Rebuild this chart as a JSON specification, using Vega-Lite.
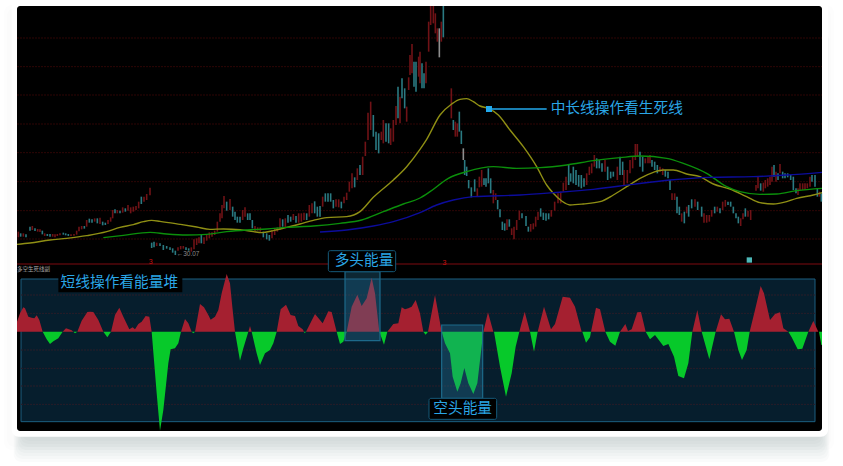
{"$schema":"https://vega.github.io/schema/vega-lite/v6.json","width":843,"height":466,"padding":0,"autosize":{"type":"fit","contains":"padding"},"background":"#ffffff","config":{"view":{"stroke":null},"text":{"font":"Noto Sans CJK SC"}},"resolve":{"scale":{"y":"independent"}},"layer":[
{"encoding":{"x":{"field":"x","type":"quantitative","scale":{"domain":[0,2529],"nice":false,"zero":false},"axis":null},"y":{"field":"y","type":"quantitative","scale":{"domain":[0,1398],"nice":false,"zero":false},"axis":null}},"layer":[
{"data":{"values":[{"x":12,"x2":2502,"y":1383,"y2":48},{"x":21,"x2":2493,"y":1374,"y2":57}]},"mark":{"type":"rect","fill":"#6b7780","opacity":0.015,"cornerRadius":8},"encoding":{"x2":{"field":"x2"},"y2":{"field":"y2"}}},
{"data":{"values":[{"x":66,"x2":2463,"y":1300,"y2":75},{"x":62,"x2":2467,"y":1300,"y2":66},{"x":59,"x2":2470,"y":1300,"y2":57},{"x":55,"x2":2474,"y":1300,"y2":48},{"x":52,"x2":2477,"y":1300,"y2":39},{"x":48,"x2":2481,"y":1300,"y2":30},{"x":44,"x2":2485,"y":1300,"y2":21},{"x":41,"x2":2488,"y":1300,"y2":12}]},"mark":{"type":"rect","fill":"#6b7780","opacity":0.03,"cornerRadius":8},"encoding":{"x2":{"field":"x2"},"y2":{"field":"y2"}}},
{"data":{"values":[{"x":35,"x2":2484,"y":1398,"y2":88}]},"mark":{"type":"rect","fill":"#ffffff","cornerRadius":7},"encoding":{"x2":{"field":"x2"},"y2":{"field":"y2"}}},
{"data":{"values":[{"x":51,"x2":2466,"y":1380,"y2":105}]},"mark":{"type":"rect","fill":"#000000","cornerRadius":3},"encoding":{"x2":{"field":"x2"},"y2":{"field":"y2"}}},
{"data":{"values":[{"x":51,"x2":2466,"y":1284},{"x":51,"x2":2466,"y":1198},{"x":51,"x2":2466,"y":1113},{"x":51,"x2":2466,"y":1026},{"x":51,"x2":2466,"y":940},{"x":51,"x2":2466,"y":853},{"x":51,"x2":2466,"y":766},{"x":51,"x2":2466,"y":681}]},"mark":{"type":"rule","stroke":"#2e0505","strokeWidth":1,"strokeDash":[2,1]},"encoding":{"x2":{"field":"x2"}}},
{"data":{"values":[{"x":51,"x2":2466,"y":606}]},"mark":{"type":"rule","stroke":"#7f0a10","strokeWidth":1},"encoding":{"x2":{"field":"x2"}}},
{"data":{"values":[
{"x":55,"h":703,"l":686,"d":"r"},{"x":62,"h":698,"l":688,"d":"t"},{"x":70,"h":698,"l":688,"d":"r"},{"x":78,"h":695,"l":686,"d":"t"},{"x":90,"h":718,"l":706,"d":"t"},{"x":97,"h":720,"l":708,"d":"r"},{"x":105,"h":713,"l":705,"d":"t"},{"x":113,"h":711,"l":703,"d":"r"},{"x":120,"h":710,"l":702,"d":"r"},{"x":127,"h":706,"l":695,"d":"t"},{"x":134,"h":698,"l":690,"d":"r"},{"x":142,"h":696,"l":690,"d":"t"},{"x":150,"h":696,"l":688,"d":"t"},{"x":158,"h":696,"l":688,"d":"r"},{"x":165,"h":695,"l":686,"d":"r"},{"x":172,"h":696,"l":690,"d":"r"},{"x":180,"h":698,"l":692,"d":"r"},{"x":190,"h":700,"l":694,"d":"t"},{"x":197,"h":698,"l":692,"d":"t"},{"x":205,"h":696,"l":690,"d":"t"},{"x":213,"h":695,"l":690,"d":"r"},{"x":222,"h":696,"l":691,"d":"r"},{"x":230,"h":706,"l":694,"d":"r"},{"x":237,"h":718,"l":704,"d":"r"},{"x":245,"h":720,"l":710,"d":"r"},{"x":253,"h":720,"l":712,"d":"t"},{"x":260,"h":738,"l":718,"d":"r"},{"x":268,"h":742,"l":730,"d":"t"},{"x":276,"h":740,"l":730,"d":"t"},{"x":284,"h":743,"l":733,"d":"r"},{"x":292,"h":743,"l":728,"d":"t"},{"x":300,"h":745,"l":726,"d":"r"},{"x":308,"h":733,"l":722,"d":"t"},{"x":316,"h":730,"l":723,"d":"t"},{"x":324,"h":738,"l":726,"d":"r"},{"x":332,"h":746,"l":733,"d":"r"},{"x":338,"h":768,"l":743,"d":"r"},{"x":345,"h":770,"l":758,"d":"t"},{"x":352,"h":768,"l":758,"d":"r"},{"x":360,"h":766,"l":758,"d":"t"},{"x":368,"h":776,"l":760,"d":"r"},{"x":376,"h":773,"l":763,"d":"t"},{"x":384,"h":783,"l":766,"d":"r"},{"x":392,"h":776,"l":758,"d":"r"},{"x":400,"h":778,"l":763,"d":"r"},{"x":408,"h":780,"l":768,"d":"r"},{"x":416,"h":793,"l":773,"d":"r"},{"x":424,"h":808,"l":786,"d":"t"},{"x":432,"h":808,"l":793,"d":"r"},{"x":440,"h":816,"l":798,"d":"r"},{"x":450,"h":835,"l":812,"d":"r"},
{"x":455,"h":670,"l":654,"d":"t"},{"x":462,"h":673,"l":656,"d":"t"},{"x":470,"h":670,"l":660,"d":"r"},{"x":480,"h":668,"l":660,"d":"t"},{"x":490,"h":663,"l":648,"d":"t"},{"x":500,"h":660,"l":652,"d":"t"},{"x":510,"h":656,"l":648,"d":"t"},{"x":518,"h":653,"l":640,"d":"t"},{"x":526,"h":646,"l":633,"d":"t"},{"x":534,"h":656,"l":646,"d":"r"},{"x":542,"h":660,"l":650,"d":"r"},{"x":550,"h":660,"l":652,"d":"r"},{"x":558,"h":656,"l":648,"d":"t"},{"x":566,"h":653,"l":646,"d":"t"},{"x":574,"h":656,"l":643,"d":"r"},{"x":582,"h":680,"l":650,"d":"r"},{"x":590,"h":683,"l":663,"d":"r"},{"x":597,"h":686,"l":668,"d":"r"},{"x":604,"h":693,"l":668,"d":"t"},{"x":612,"h":686,"l":666,"d":"r"},{"x":620,"h":693,"l":676,"d":"r"},{"x":628,"h":701,"l":683,"d":"r"},{"x":636,"h":701,"l":688,"d":"r"},{"x":644,"h":706,"l":693,"d":"r"},{"x":652,"h":733,"l":703,"d":"r"},{"x":660,"h":758,"l":733,"d":"r"},{"x":666,"h":783,"l":743,"d":"r"},{"x":672,"h":810,"l":773,"d":"r"},{"x":680,"h":793,"l":766,"d":"t"},{"x":690,"h":801,"l":768,"d":"r"},{"x":698,"h":778,"l":748,"d":"t"},{"x":705,"h":763,"l":738,"d":"t"},{"x":712,"h":748,"l":730,"d":"t"},{"x":720,"h":748,"l":730,"d":"t"},{"x":728,"h":768,"l":738,"d":"r"},{"x":735,"h":776,"l":748,"d":"r"},{"x":743,"h":758,"l":738,"d":"t"},{"x":750,"h":758,"l":738,"d":"t"},{"x":757,"h":738,"l":713,"d":"t"},{"x":765,"h":720,"l":703,"d":"r"},{"x":773,"h":716,"l":706,"d":"r"},{"x":781,"h":716,"l":703,"d":"r"},{"x":790,"h":703,"l":686,"d":"t"},{"x":800,"h":698,"l":680,"d":"t"},{"x":808,"h":693,"l":676,"d":"t"},{"x":816,"h":708,"l":683,"d":"r"},{"x":824,"h":713,"l":693,"d":"r"},{"x":832,"h":716,"l":703,"d":"r"},{"x":840,"h":743,"l":708,"d":"r"},{"x":848,"h":740,"l":718,"d":"t"},{"x":856,"h":743,"l":716,"d":"r"},{"x":864,"h":753,"l":730,"d":"t"},{"x":872,"h":748,"l":733,"d":"t"},{"x":880,"h":756,"l":738,"d":"r"},{"x":888,"h":750,"l":730,"d":"t"},{"x":896,"h":758,"l":730,"d":"r"},{"x":904,"h":758,"l":733,"d":"r"},{"x":912,"h":760,"l":738,"d":"r"},{"x":920,"h":758,"l":738,"d":"t"},{"x":928,"h":783,"l":748,"d":"r"},{"x":936,"h":788,"l":758,"d":"r"},{"x":944,"h":794,"l":758,"d":"t"},{"x":952,"h":778,"l":748,"d":"t"},{"x":960,"h":780,"l":748,"d":"t"},{"x":968,"h":808,"l":778,"d":"r"},{"x":976,"h":818,"l":793,"d":"t"},{"x":984,"h":818,"l":793,"d":"t"},{"x":992,"h":818,"l":793,"d":"t"},{"x":1000,"h":798,"l":773,"d":"t"},{"x":1008,"h":800,"l":778,"d":"r"},{"x":1016,"h":800,"l":776,"d":"r"},{"x":1024,"h":793,"l":773,"d":"t"},{"x":1032,"h":808,"l":788,"d":"r"},{"x":1040,"h":820,"l":798,"d":"r"},{"x":1048,"h":853,"l":823,"d":"r"},{"x":1056,"h":878,"l":833,"d":"r"},{"x":1064,"h":866,"l":836,"d":"t"},{"x":1072,"h":893,"l":858,"d":"r"},{"x":1080,"h":903,"l":873,"d":"t"},{"x":1088,"h":928,"l":873,"d":"r"},{"x":1096,"h":973,"l":930,"d":"r"},{"x":1104,"h":1060,"l":978,"d":"r"},{"x":1112,"h":1093,"l":1008,"d":"r"},{"x":1120,"h":1053,"l":988,"d":"t"},{"x":1128,"h":1003,"l":948,"d":"t"},{"x":1136,"h":998,"l":938,"d":"t"},{"x":1144,"h":1003,"l":978,"d":"r"},{"x":1150,"h":1038,"l":968,"d":"r"},{"x":1158,"h":1028,"l":973,"d":"t"},{"x":1166,"h":1028,"l":968,"d":"t"},{"x":1172,"h":1013,"l":963,"d":"r"},{"x":1180,"h":1038,"l":973,"d":"r"},{"x":1188,"h":1080,"l":1023,"d":"r"},{"x":1194,"h":1138,"l":1043,"d":"t"},{"x":1200,"h":1108,"l":1028,"d":"r"},{"x":1206,"h":1163,"l":1103,"d":"t"},{"x":1214,"h":1133,"l":1073,"d":"t"},{"x":1220,"h":1078,"l":1033,"d":"r"},{"x":1226,"h":1166,"l":1128,"d":"r"},{"x":1230,"h":1233,"l":1173,"d":"r"},{"x":1236,"h":1266,"l":1178,"d":"r"},{"x":1242,"h":1213,"l":1138,"d":"t"},{"x":1248,"h":1213,"l":1123,"d":"t"},{"x":1256,"h":1228,"l":1168,"d":"r"},
{"x":1260,"h":1243,"l":1148,"d":"r"},{"x":1266,"h":1208,"l":1133,"d":"t"},{"x":1272,"h":1178,"l":1133,"d":"t"},{"x":1278,"h":1213,"l":1148,"d":"r"},{"x":1286,"h":1333,"l":1243,"d":"r"},{"x":1292,"h":1380,"l":1323,"d":"r"},{"x":1300,"h":1380,"l":1328,"d":"r"},{"x":1306,"h":1358,"l":1298,"d":"r"},{"x":1312,"h":1313,"l":1273,"d":"r"},{"x":1318,"h":1313,"l":1226,"d":"g"},{"x":1324,"h":1333,"l":1273,"d":"r"},{"x":1330,"h":1380,"l":1286,"d":"t"},{"x":1354,"h":1133,"l":1043,"d":"r"},{"x":1360,"h":1038,"l":1008,"d":"t"},{"x":1366,"h":1033,"l":988,"d":"r"},{"x":1372,"h":1028,"l":988,"d":"r"},{"x":1378,"h":1063,"l":1003,"d":"t"},{"x":1384,"h":1006,"l":966,"d":"t"},{"x":1390,"h":953,"l":918,"d":"g"},{"x":1394,"h":918,"l":873,"d":"t"},{"x":1400,"h":898,"l":870,"d":"t"},{"x":1406,"h":858,"l":833,"d":"t"},{"x":1414,"h":836,"l":806,"d":"t"},{"x":1424,"h":860,"l":823,"d":"t"},{"x":1432,"h":833,"l":808,"d":"r"},{"x":1438,"h":868,"l":836,"d":"r"},{"x":1445,"h":888,"l":838,"d":"r"},{"x":1452,"h":863,"l":843,"d":"t"},{"x":1458,"h":863,"l":838,"d":"t"},{"x":1465,"h":893,"l":848,"d":"t"},{"x":1472,"h":863,"l":818,"d":"t"},{"x":1480,"h":828,"l":788,"d":"r"},{"x":1487,"h":818,"l":798,"d":"r"},{"x":1493,"h":798,"l":770,"d":"t"},{"x":1500,"h":770,"l":746,"d":"t"},{"x":1507,"h":733,"l":708,"d":"t"},{"x":1514,"h":728,"l":706,"d":"t"},{"x":1521,"h":740,"l":708,"d":"r"},{"x":1528,"h":740,"l":718,"d":"t"},{"x":1535,"h":713,"l":693,"d":"r"},{"x":1542,"h":718,"l":680,"d":"r"},{"x":1550,"h":738,"l":708,"d":"r"},{"x":1558,"h":766,"l":738,"d":"r"},{"x":1566,"h":758,"l":743,"d":"t"},{"x":1578,"h":750,"l":720,"d":"t"},{"x":1585,"h":718,"l":703,"d":"t"},{"x":1592,"h":726,"l":703,"d":"r"},{"x":1600,"h":728,"l":710,"d":"r"},{"x":1607,"h":748,"l":718,"d":"r"},{"x":1614,"h":763,"l":738,"d":"r"},{"x":1622,"h":773,"l":748,"d":"t"},{"x":1630,"h":760,"l":738,"d":"t"},{"x":1638,"h":758,"l":736,"d":"t"},{"x":1646,"h":758,"l":740,"d":"t"},{"x":1654,"h":768,"l":748,"d":"r"},{"x":1664,"h":793,"l":766,"d":"r"},{"x":1674,"h":818,"l":788,"d":"r"},{"x":1682,"h":823,"l":788,"d":"r"},{"x":1690,"h":850,"l":823,"d":"r"},{"x":1698,"h":868,"l":828,"d":"r"},{"x":1706,"h":903,"l":843,"d":"t"},{"x":1712,"h":878,"l":853,"d":"t"},{"x":1720,"h":898,"l":848,"d":"t"},{"x":1728,"h":888,"l":843,"d":"t"},{"x":1736,"h":873,"l":838,"d":"t"},{"x":1744,"h":873,"l":833,"d":"t"},{"x":1752,"h":863,"l":838,"d":"t"},{"x":1760,"h":878,"l":843,"d":"r"},{"x":1768,"h":898,"l":873,"d":"r"},{"x":1775,"h":908,"l":878,"d":"r"},{"x":1783,"h":933,"l":898,"d":"r"},{"x":1790,"h":923,"l":893,"d":"t"},{"x":1798,"h":918,"l":893,"d":"t"},{"x":1806,"h":908,"l":883,"d":"t"},{"x":1815,"h":918,"l":883,"d":"r"},{"x":1823,"h":898,"l":858,"d":"t"},{"x":1832,"h":883,"l":863,"d":"t"},{"x":1840,"h":883,"l":868,"d":"t"},{"x":1852,"h":898,"l":858,"d":"r"},{"x":1860,"h":928,"l":873,"d":"t"},{"x":1868,"h":913,"l":873,"d":"t"},{"x":1872,"h":888,"l":843,"d":"r"},{"x":1882,"h":888,"l":848,"d":"r"},{"x":1890,"h":918,"l":878,"d":"r"},{"x":1898,"h":928,"l":893,"d":"r"},{"x":1906,"h":966,"l":918,"d":"r"},{"x":1912,"h":966,"l":928,"d":"r"},{"x":1920,"h":943,"l":898,"d":"t"},{"x":1928,"h":928,"l":883,"d":"t"},{"x":1936,"h":923,"l":908,"d":"r"},{"x":1944,"h":928,"l":908,"d":"r"},{"x":1950,"h":933,"l":908,"d":"r"},{"x":1956,"h":918,"l":898,"d":"t"},{"x":1964,"h":913,"l":888,"d":"t"},{"x":1972,"h":903,"l":878,"d":"t"},{"x":1980,"h":898,"l":883,"d":"r"},{"x":1988,"h":893,"l":873,"d":"r"},{"x":1996,"h":888,"l":868,"d":"t"},{"x":2004,"h":883,"l":863,"d":"t"},{"x":2010,"h":858,"l":828,"d":"t"},{"x":2016,"h":818,"l":798,"d":"r"},{"x":2024,"h":818,"l":798,"d":"r"},{"x":2031,"h":808,"l":758,"d":"t"},{"x":2038,"h":778,"l":753,"d":"t"},{"x":2045,"h":758,"l":733,"d":"r"},{"x":2053,"h":763,"l":728,"d":"t"},{"x":2060,"h":778,"l":758,"d":"r"},{"x":2066,"h":783,"l":748,"d":"t"},{"x":2075,"h":800,"l":773,"d":"t"},{"x":2085,"h":800,"l":778,"d":"r"},{"x":2093,"h":793,"l":768,"d":"t"},{"x":2105,"h":778,"l":748,"d":"t"},{"x":2112,"h":758,"l":730,"d":"r"},{"x":2120,"h":753,"l":730,"d":"r"},{"x":2128,"h":753,"l":733,"d":"r"},{"x":2135,"h":768,"l":748,"d":"r"},{"x":2144,"h":778,"l":758,"d":"t"},{"x":2152,"h":778,"l":763,"d":"r"},{"x":2160,"h":773,"l":758,"d":"t"},{"x":2168,"h":793,"l":768,"d":"r"},{"x":2176,"h":798,"l":778,"d":"r"},{"x":2184,"h":793,"l":783,"d":"t"},{"x":2192,"h":793,"l":778,"d":"t"},{"x":2200,"h":778,"l":758,"d":"t"},{"x":2208,"h":758,"l":743,"d":"t"},{"x":2215,"h":748,"l":728,"d":"t"},{"x":2222,"h":743,"l":720,"d":"r"},{"x":2229,"h":758,"l":740,"d":"r"},{"x":2236,"h":773,"l":748,"d":"t"},{"x":2244,"h":766,"l":748,"d":"r"},{"x":2252,"h":768,"l":738,"d":"r"},{"x":2268,"h":843,"l":826,"d":"r"},{"x":2274,"h":870,"l":833,"d":"r"},{"x":2282,"h":848,"l":826,"d":"t"},{"x":2290,"h":850,"l":823,"d":"r"},{"x":2296,"h":858,"l":833,"d":"r"},{"x":2303,"h":863,"l":838,"d":"r"},{"x":2310,"h":868,"l":843,"d":"r"},{"x":2316,"h":898,"l":853,"d":"r"},{"x":2322,"h":903,"l":868,"d":"t"},{"x":2328,"h":883,"l":853,"d":"r"},{"x":2334,"h":878,"l":858,"d":"t"},{"x":2340,"h":906,"l":878,"d":"r"},{"x":2348,"h":883,"l":863,"d":"t"},{"x":2355,"h":878,"l":863,"d":"t"},{"x":2363,"h":878,"l":866,"d":"t"},{"x":2372,"h":873,"l":858,"d":"t"},{"x":2380,"h":868,"l":828,"d":"t"},{"x":2388,"h":833,"l":818,"d":"t"},{"x":2394,"h":833,"l":813,"d":"r"},{"x":2400,"h":848,"l":828,"d":"r"},{"x":2408,"h":848,"l":828,"d":"r"},{"x":2415,"h":848,"l":828,"d":"r"},{"x":2422,"h":848,"l":833,"d":"r"},{"x":2430,"h":868,"l":838,"d":"r"},{"x":2436,"h":873,"l":853,"d":"t"},{"x":2445,"h":873,"l":838,"d":"t"},{"x":2452,"h":833,"l":808,"d":"t"},{"x":2458,"h":823,"l":808,"d":"r"},{"x":2464,"h":818,"l":793,"d":"t"}
]},"mark":{"type":"rule","strokeWidth":1.6},"encoding":{"y":{"field":"h","type":"quantitative"},"y2":{"field":"l"},"color":{"field":"d","type":"nominal","legend":null,"scale":{"domain":["r","t","g"],"range":["#701216","#2a7a82","#8e8e8e"]}}}},
{"data":{"values":[{"x":51,"y":665},{"x":90,"y":669},{"x":150,"y":678},{"x":200,"y":683},{"x":260,"y":691},{"x":320,"y":703},{"x":360,"y":716},{"x":400,"y":724},{"x":430,"y":733},{"x":455,"y":737},{"x":480,"y":734},{"x":540,"y":725},{"x":590,"y":717},{"x":630,"y":710},{"x":670,"y":711},{"x":720,"y":709},{"x":760,"y":703},{"x":785,"y":700},{"x":820,"y":706},{"x":860,"y":716},{"x":900,"y":726},{"x":940,"y":737},{"x":980,"y":745},{"x":1040,"y":748},{"x":1080,"y":763},{"x":1120,"y":806},{"x":1180,"y":858},{"x":1220,"y":898},{"x":1260,"y":950},{"x":1280,"y":980},{"x":1320,"y":1053},{"x":1355,"y":1086},{"x":1380,"y":1100},{"x":1400,"y":1102},{"x":1420,"y":1093},{"x":1440,"y":1080},{"x":1465,"y":1073},{"x":1495,"y":1053},{"x":1530,"y":1008},{"x":1570,"y":958},{"x":1610,"y":898},{"x":1640,"y":843},{"x":1660,"y":818},{"x":1685,"y":795},{"x":1710,"y":783},{"x":1750,"y":786},{"x":1800,"y":793},{"x":1840,"y":813},{"x":1880,"y":838},{"x":1920,"y":863},{"x":1960,"y":881},{"x":1990,"y":888},{"x":2020,"y":888},{"x":2060,"y":876},{"x":2100,"y":868},{"x":2140,"y":846},{"x":2190,"y":831},{"x":2240,"y":808},{"x":2280,"y":790},{"x":2320,"y":786},{"x":2360,"y":793},{"x":2390,"y":803},{"x":2440,"y":813},{"x":2466,"y":820}]},"mark":{"type":"line","stroke":"#8f8f14","strokeWidth":1.4,"interpolate":"monotone"}},
{"data":{"values":[{"x":310,"y":685},{"x":370,"y":692},{"x":450,"y":701},{"x":500,"y":696},{"x":560,"y":693},{"x":620,"y":695},{"x":680,"y":703},{"x":740,"y":708},{"x":800,"y":711},{"x":860,"y":716},{"x":940,"y":720},{"x":1020,"y":728},{"x":1085,"y":738},{"x":1150,"y":763},{"x":1210,"y":786},{"x":1260,"y":804},{"x":1290,"y":823},{"x":1345,"y":863},{"x":1400,"y":883},{"x":1480,"y":898},{"x":1550,"y":893},{"x":1620,"y":895},{"x":1700,"y":903},{"x":1780,"y":916},{"x":1860,"y":925},{"x":1920,"y":930},{"x":2000,"y":923},{"x":2050,"y":908},{"x":2120,"y":878},{"x":2180,"y":838},{"x":2220,"y":823},{"x":2280,"y":815},{"x":2330,"y":816},{"x":2390,"y":826},{"x":2466,"y":833}]},"mark":{"type":"line","stroke":"#0b8f0b","strokeWidth":1.4,"interpolate":"monotone"}},
{"data":{"values":[{"x":960,"y":702},{"x":1040,"y":708},{"x":1120,"y":720},{"x":1180,"y":733},{"x":1260,"y":760},{"x":1310,"y":783},{"x":1360,"y":798},{"x":1420,"y":808},{"x":1560,"y":813},{"x":1660,"y":820},{"x":1780,"y":830},{"x":1900,"y":845},{"x":2010,"y":858},{"x":2130,"y":866},{"x":2260,"y":868},{"x":2360,"y":873},{"x":2466,"y":881}]},"mark":{"type":"line","stroke":"#0c0c9c","strokeWidth":1.4,"interpolate":"monotone"}},
{"data":{"values":[{"x":63,"x2":2445,"y":561,"y2":133}]},"mark":{"type":"rect","fill":"#061e2d","stroke":"#1c5f80","strokeWidth":1},"encoding":{"x2":{"field":"x2"},"y2":{"field":"y2"}}},
{"data":{"values":[{"x":63,"x2":2445,"y":513},{"x":63,"x2":2445,"y":458},{"x":63,"x2":2445,"y":348},{"x":63,"x2":2445,"y":293},{"x":63,"x2":2445,"y":240},{"x":63,"x2":2445,"y":185}]},"mark":{"type":"rule","stroke":"#2a1c28","strokeWidth":1,"strokeDash":[2,1]},"encoding":{"x2":{"field":"x2"}}}
]},
{"encoding":{"x":{"field":"x","type":"quantitative","scale":{"domain":[0,2529],"nice":false,"zero":false},"axis":null},"y":{"field":"e","type":"quantitative","stack":null,"scale":{"domain":[-403,995],"nice":false,"zero":false},"axis":null}},"layer":[
{"data":{"values":[{"x":51,"e":0},{"x":51,"e":30},{"x":60,"e":55},{"x":70,"e":73},{"x":75,"e":70},{"x":85,"e":45},{"x":95,"e":42},{"x":103,"e":40},{"x":110,"e":49},{"x":118,"e":35},{"x":128,"e":0},{"x":188,"e":0},{"x":198,"e":10},{"x":215,"e":4},{"x":220,"e":0},{"x":232,"e":0},{"x":245,"e":33},{"x":262,"e":59},{"x":270,"e":60},{"x":280,"e":59},{"x":295,"e":35},{"x":310,"e":0},{"x":333,"e":0},{"x":345,"e":50},{"x":358,"e":72},{"x":370,"e":45},{"x":388,"e":7},{"x":398,"e":13},{"x":405,"e":7},{"x":415,"e":23},{"x":425,"e":30},{"x":437,"e":47},{"x":448,"e":45},{"x":455,"e":0},{"x":543,"e":0},{"x":555,"e":38},{"x":565,"e":25},{"x":575,"e":0},{"x":585,"e":0},{"x":600,"e":83},{"x":612,"e":73},{"x":625,"e":50},{"x":632,"e":36},{"x":645,"e":45},{"x":655,"e":65},{"x":665,"e":115},{"x":680,"e":173},{"x":690,"e":145},{"x":697,"e":75},{"x":705,"e":0},{"x":745,"e":0},{"x":750,"e":17},{"x":755,"e":0},{"x":830,"e":0},{"x":842,"e":67},{"x":858,"e":81},{"x":872,"e":50},{"x":885,"e":47},{"x":895,"e":17},{"x":908,"e":7},{"x":912,"e":0},{"x":918,"e":0},{"x":945,"e":53},{"x":968,"e":25},{"x":985,"e":61},{"x":995,"e":59},{"x":1010,"e":0},{"x":1040,"e":0},{"x":1055,"e":75},{"x":1072,"e":111},{"x":1085,"e":77},{"x":1100,"e":100},{"x":1115,"e":162},{"x":1125,"e":115},{"x":1138,"e":0},{"x":1162,"e":0},{"x":1180,"e":23},{"x":1195,"e":25},{"x":1205,"e":73},{"x":1215,"e":67},{"x":1225,"e":70},{"x":1235,"e":75},{"x":1247,"e":95},{"x":1260,"e":55},{"x":1270,"e":0},{"x":1284,"e":0},{"x":1305,"e":110},{"x":1325,"e":0},{"x":1450,"e":0},{"x":1464,"e":58},{"x":1480,"e":0},{"x":1558,"e":0},{"x":1574,"e":60},{"x":1590,"e":0},{"x":1613,"e":0},{"x":1632,"e":75},{"x":1653,"e":7},{"x":1665,"e":23},{"x":1688,"e":105},{"x":1710,"e":102},{"x":1725,"e":75},{"x":1745,"e":0},{"x":1773,"e":0},{"x":1788,"e":72},{"x":1800,"e":67},{"x":1816,"e":0},{"x":1860,"e":0},{"x":1876,"e":23},{"x":1884,"e":2},{"x":1895,"e":7},{"x":1912,"e":58},{"x":1923,"e":59},{"x":1937,"e":0},{"x":2077,"e":0},{"x":2092,"e":65},{"x":2105,"e":0},{"x":2147,"e":0},{"x":2163,"e":52},{"x":2175,"e":37},{"x":2188,"e":39},{"x":2202,"e":0},{"x":2249,"e":0},{"x":2265,"e":65},{"x":2282,"e":137},{"x":2292,"e":115},{"x":2310,"e":35},{"x":2325,"e":53},{"x":2340,"e":58},{"x":2350,"e":10},{"x":2365,"e":0},{"x":2425,"e":0},{"x":2440,"e":32},{"x":2455,"e":0}]},"mark":{"type":"area","fill":"#a52030"}},
{"data":{"values":[{"x":128,"e":0},{"x":140,"e":-23},{"x":150,"e":-37},{"x":160,"e":-29},{"x":175,"e":-20},{"x":188,"e":0},{"x":220,"e":0},{"x":225,"e":-5},{"x":232,"e":0},{"x":310,"e":0},{"x":322,"e":-17},{"x":333,"e":0},{"x":455,"e":0},{"x":470,"e":-185},{"x":480,"e":-297},{"x":490,"e":-235},{"x":505,"e":-95},{"x":512,"e":-53},{"x":525,"e":-50},{"x":535,"e":-35},{"x":543,"e":0},{"x":575,"e":0},{"x":580,"e":-5},{"x":585,"e":0},{"x":705,"e":0},{"x":720,"e":-87},{"x":730,"e":-50},{"x":745,"e":0},{"x":755,"e":0},{"x":770,"e":-65},{"x":780,"e":-100},{"x":795,"e":-65},{"x":810,"e":-55},{"x":820,"e":-35},{"x":830,"e":0},{"x":912,"e":0},{"x":914,"e":-5},{"x":918,"e":0},{"x":1010,"e":0},{"x":1020,"e":-37},{"x":1030,"e":-30},{"x":1040,"e":0},{"x":1138,"e":0},{"x":1152,"e":-39},{"x":1162,"e":0},{"x":1270,"e":0},{"x":1277,"e":-9},{"x":1284,"e":0},{"x":1325,"e":0},{"x":1335,"e":-35},{"x":1350,"e":-65},{"x":1358,"e":-135},{"x":1372,"e":-180},{"x":1382,"e":-155},{"x":1393,"e":-109},{"x":1405,"e":-155},{"x":1420,"e":-187},{"x":1432,"e":-155},{"x":1450,"e":0},{"x":1482,"e":0},{"x":1500,"e":-105},{"x":1518,"e":-195},{"x":1535,"e":-125},{"x":1547,"e":-45},{"x":1558,"e":0},{"x":1590,"e":0},{"x":1602,"e":-60},{"x":1613,"e":0},{"x":1747,"e":0},{"x":1758,"e":-33},{"x":1770,"e":-17},{"x":1773,"e":0},{"x":1816,"e":0},{"x":1830,"e":-30},{"x":1846,"e":-42},{"x":1860,"e":0},{"x":1937,"e":0},{"x":1950,"e":-23},{"x":1965,"e":-10},{"x":1990,"e":-43},{"x":2005,"e":-37},{"x":2022,"e":-75},{"x":2035,"e":-133},{"x":2052,"e":-140},{"x":2065,"e":-95},{"x":2077,"e":0},{"x":2105,"e":0},{"x":2128,"e":-83},{"x":2147,"e":0},{"x":2202,"e":0},{"x":2215,"e":-55},{"x":2226,"e":-85},{"x":2240,"e":-55},{"x":2249,"e":0},{"x":2365,"e":0},{"x":2375,"e":-17},{"x":2393,"e":-53},{"x":2407,"e":-51},{"x":2425,"e":0},{"x":2457,"e":0},{"x":2464,"e":-40},{"x":2466,"e":-40}]},"mark":{"type":"area","fill":"#07c92a"}}
]},
{"encoding":{"x":{"field":"x","type":"quantitative","scale":{"domain":[0,2529],"nice":false,"zero":false},"axis":null},"y":{"field":"y","type":"quantitative","scale":{"domain":[0,1398],"nice":false,"zero":false},"axis":null}},"layer":[
{"data":{"values":[{"x":1035,"x2":1140,"y":583,"y2":376},{"x":1325,"x2":1448,"y":423,"y2":203}]},"mark":{"type":"rect","fill":"#2a82a8","fillOpacity":0.3,"stroke":"#1d6a8a","strokeWidth":1.2},"encoding":{"x2":{"field":"x2"},"y2":{"field":"y2"}}},
{"data":{"values":[{"x":175,"x2":547,"y":573,"y2":521}]},"mark":{"type":"rect","fill":"#000000"},"encoding":{"x2":{"field":"x2"},"y2":{"field":"y2"}}},
{"data":{"values":[{"x":985,"x2":1187,"y":646,"y2":583},{"x":1287,"x2":1490,"y":203,"y2":140}]},"mark":{"type":"rect","fill":"#000000","stroke":"#155a7a","strokeWidth":1,"cornerRadius":2},"encoding":{"x2":{"field":"x2"},"y2":{"field":"y2"}}},
{"data":{"values":[{"x":1467,"x2":1640,"y":1071}]},"mark":{"type":"rule","stroke":"#22aaee","strokeWidth":1.3},"encoding":{"x2":{"field":"x2"}}},
{"data":{"values":[{"x":1467,"y":1071}]},"mark":{"type":"point","shape":"square","filled":true,"fill":"#22aaee","opacity":1,"size":36}},
{"data":{"values":[{"x":2248,"y":618}]},"mark":{"type":"point","shape":"square","filled":true,"fill":"#4db8b8","opacity":1,"size":28}},
{"data":{"values":[{"x":1652,"y":1071,"t":"中长线操作看生死线"}]},"mark":{"type":"text","align":"left","baseline":"middle","fontSize":14.7,"font":"Noto Sans CJK SC","fill":"#2aa6e6"},"encoding":{"text":{"field":"t"}}},
{"data":{"values":[{"x":358,"y":550,"t":"短线操作看能量堆"},{"x":1092,"y":615,"t":"多头能量"},{"x":1388,"y":172,"t":"空头能量"}]},"mark":{"type":"text","align":"center","baseline":"middle","fontSize":14.7,"font":"Noto Sans CJK SC","fill":"#2aa6e6"},"encoding":{"text":{"field":"t"}}},
{"data":{"values":[{"x":530,"y":636,"t":"←30.07"}]},"mark":{"type":"text","align":"left","baseline":"middle","fontSize":6.5,"font":"Liberation Sans","fill":"#8a8a8a"},"encoding":{"text":{"field":"t"}}},
{"data":{"values":[{"x":51,"y":590,"t":"多空生死线副"}]},"mark":{"type":"text","align":"left","baseline":"middle","fontSize":5.5,"font":"Noto Sans CJK SC","fill":"#a8a8a8"},"encoding":{"text":{"field":"t"}}},
{"data":{"values":[{"x":452,"y":613,"t":"3"},{"x":1333,"y":610,"t":"3"}]},"mark":{"type":"text","align":"center","baseline":"middle","fontSize":7,"font":"Liberation Sans","fill":"#cc1111"},"encoding":{"text":{"field":"t"}}}
]}
]}
